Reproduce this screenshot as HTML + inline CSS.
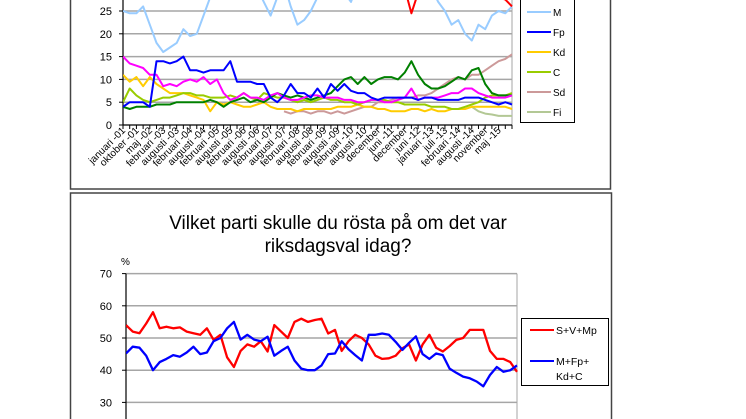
<!DOCTYPE html>
<html><head><meta charset="utf-8">
<style>
html,body{margin:0;padding:0;background:#fff;}
body{width:746px;height:419px;overflow:hidden;position:relative;font-family:"Liberation Sans",Arial,sans-serif;}
svg{position:absolute;left:0;top:0;}
text{font-family:"Liberation Sans",Arial,sans-serif;fill:#000;}
</style></head>
<body>
<svg id="chart" width="746" height="419" viewBox="0 0 746 419">
  <defs>
    <clipPath id="clipTop"><rect x="123" y="-60" width="390" height="186"/></clipPath>
    <clipPath id="clipBot"><rect x="126" y="273" width="392" height="146"/></clipPath>
  </defs>
  <rect x="70.5" y="-5" width="540" height="194" fill="#fff" stroke="#444" stroke-width="1.5"/>
  <rect x="70.5" y="193" width="541" height="240" fill="#fff" stroke="#444" stroke-width="1.5"/>
  <g id="topg"></g>
  <g id="botg"></g>
  <text x="338" y="229" font-size="19" text-anchor="middle">Vilket parti skulle du rösta på om det var</text>
  <text x="338" y="252" font-size="19" text-anchor="middle">riksdagsval idag?</text>
  <text x="121" y="265" font-size="10">%</text>
</svg>
<script>
const topLabels=["januari -01","oktober -01","maj -02","februari -03","augusti -03","februari -04","augusti -04","februari -05","augusti -05","februari -06","augusti -06","februari -07","augusti -07","februari -08","augusti -08","februari -09","augusti -09","februari -10","augusti -10","december","juni -11","december","juni -12","januari -13","juli -13","februari -14","augusti -14","november","maj -15"];
const topTicks=[0,5,10,15,20,25];
const botTicks=[30,40,50,60,70];
const S=[36,37,38,39,40,41,41,40,39,38,37,36,35,34,34,33,33,34,35,36,37,36,35,34,35,36,36,35,35,34,33,32,32,32,32,32,32,32,32,31,31,31,30,24.5,29,32,33,33,33,33,33,32,32,31,31,30,28,27.5,26];
const V=[15,13.5,13,12.5,11,11,8.5,9,8.5,9.5,10,9.5,10.5,9,10,7,5.5,6,7,6,6,5.5,6.5,7,6,5.5,5.5,6,6.5,6.5,6,6,6,5.5,5.5,5,5,5.5,5.5,5,5,5.5,6,8,5.5,6,6,6,6.5,7,7,8,8,7,6.5,6,6,6,6.5];
const Mp=[4,3.5,4,4,4,4.5,4.5,4.5,5,5,5,5,5,5.5,5,4,5,5.5,6,5,5.5,5,6,7,6.5,6,6.5,6,5.5,6,6.5,7,8.5,10,10.5,9,10.5,9,10,10.5,10.5,10,11.5,14,11,9,8,8,8.5,9.5,10.5,10,12,12.5,9,7,6.5,6.5,6.5];
const M=[25,24.5,24.5,26,22,18,16,17,18,21,19.5,20,24,28,32,33,33,32,33,33,30,27,24,28,31,26,22,23,25,28,30,28,30,29,27,31,33,34,34,34,33,33,33,33,32,32,30,27,25,22,23,20,18.5,22,21,24,25,24.5,26];
const Fp=[4,5,5,5,4,14,14,13.5,14,15,12,12,11.5,12,12,12,14,9.5,9.5,9.5,9,9,6,5,6.5,9,7,7,6,8,6,9,7.5,9,7.5,7,7,6,5.5,6,6,6,6,6,5.5,6,6,5.5,5.5,5.5,5.5,6,6,6,5.5,5,4.5,5,4.5];
const Kd=[11,9.5,10.5,8.5,10.5,9,8,7,7,7,6.5,6,5.5,3,5,4.5,5,4.5,4,4,4.5,5,4,3.5,3.5,3.5,3,3.5,3.5,3.5,3.5,3.5,4,4,4,4.5,4,4,3.5,3.5,3,3,3,3.5,3.5,3,3.5,3,3,3.5,3.5,3.5,4,4,4,4,4,4,3.5];
const C=[5,8,6.5,5.5,5,5.5,6,6,6.5,7,7,6.5,6.5,6,6,6,6.5,6,7,6,5.5,7,6.5,6,6,5.5,5,5.5,5,5.5,6,5.5,5.5,5,5,4.5,5,5.5,5.5,5.5,5,5,4.5,4.5,4.5,4.5,4,4,4,3.5,3.5,4,4.5,5,6,6.5,6.5,6.5,7];
const Sd=[null,null,null,null,null,null,null,null,null,null,null,null,null,null,null,null,null,null,null,null,null,null,null,null,3,2.5,3,3,2.5,3,3,2.5,3,2.5,3,3.5,4,4,5,5,5.5,6,6,6,6.5,6.5,7,8,9,10,10.5,10,11,11,12,13,14,14.5,15.5];
const Fi=[null,null,null,null,null,null,null,null,null,null,null,null,null,null,null,null,null,null,null,null,null,null,null,null,null,null,null,null,null,null,null,null,null,null,null,null,null,null,null,null,null,null,null,null,null,null,null,null,null,null,null,null,4,3,2.5,2.3,2,2,2];
const redBloc=[54,52,51.5,54.5,58,53,53.5,53,53.3,52,51.5,51,53,49.4,51,44,41,46,48,47.3,49,45.8,54,52,50,55,56,55,55.6,56,51.4,52.5,46,49,51,50,48,44.5,43.5,43.7,44.5,46.8,48,43,48,51,47,45.8,47.5,49.4,50,52.5,52.5,52.5,46,43.5,43.5,42.5,39.5];
const blueBloc=[45.2,47.3,47,44.5,40,42.5,43.5,44.7,44.2,45.5,47.3,45,45.5,49,50,53,55,49.5,51,49.5,49,50.4,44.5,46,47.3,43,40.5,40,40,41.5,45,45.2,49,46.5,44.7,43,51,51,51.4,51,48.8,46.3,48.5,50.5,45,43.5,45.2,44.7,40.5,39.2,38,37.5,36.5,35,38.5,41,39.5,40,41.5];

const NS="http://www.w3.org/2000/svg";
function mk(parent,tag,attrs){const e=document.createElementNS(NS,tag);for(const k in attrs)e.setAttribute(k,attrs[k]);parent.appendChild(e);return e;}
const N=M.length;
const tx=i=>123+i*(512-123)/(N-1);
const ty=v=>125-v*(125-11)/25;
const bx=i=>126+i*(517-126)/(N-1);
const by=v=>338-(v-50)*3.22;
const topG=document.getElementById('topg');
topTicks.forEach(t=>{
  if(t>0){const g=mk(topG,'line',{x1:123,x2:512,y1:ty(t),y2:ty(t),stroke:'#a6a6a6','stroke-width':1.5});
  
  }
  const l=mk(topG,'text',{x:112,y:ty(t)+4,'font-size':11,'text-anchor':'end'});l.textContent=t;
  
  
  mk(topG,'line',{x1:119,x2:123,y1:ty(t),y2:ty(t),stroke:'#000'});
});
mk(topG,'line',{x1:512,x2:512,y1:-20,y2:125,stroke:'#a6a6a6','stroke-width':1});
const ya=mk(topG,'line',{x1:123,x2:123,y1:-20,y2:125,stroke:'#000','stroke-width':1.2});


const xa=mk(topG,'line',{x1:123,x2:512,y1:125,y2:125,stroke:'#000','stroke-width':1.2});


for(let i=0;i<N;i++)mk(topG,'line',{x1:tx(i),x2:tx(i),y1:125,y2:129,stroke:'#000'});
topLabels.forEach((lab,k)=>{
  const x=tx(k*2)+3,y=131;
  const t=mk(topG,'text',{x:x,y:y,'font-size':10,'text-anchor':'end',transform:`rotate(-45 ${x} ${y})`});
  t.textContent=lab;
  
  
});
function path(g,arr,xf,yf,color,w,name,clip){
  let d='',pen=false;
  arr.forEach((v,i)=>{if(v==null){pen=false;return;}d+=(pen?'L':'M')+xf(i).toFixed(1)+' '+yf(v).toFixed(1)+' ';pen=true;});
  const p=mk(g,'path',{d:d,fill:'none',stroke:color,'stroke-width':w,'stroke-linejoin':'round','clip-path':clip});
  
  
}
const topSeries=[[Sd,'#cc9999','line-sd'],[Fi,'#b3c895','line-fi'],[Kd,'#ffcc00','line-kd'],[C,'#99cc00','line-c'],[Mp,'#008000','line-mp'],[V,'#ff00ff','line-v'],[Fp,'#0000ff','line-fp'],[M,'#99ccff','line-m'],[S,'#ff0000','line-s']];
topSeries.forEach(s=>path(topG,s[0],tx,ty,s[1],2,s[2],'url(#clipTop)'));
const lg=mk(topG,'g',{});


mk(lg,'rect',{x:520.5,y:-60,width:54,height:182.5,fill:'#fff',stroke:'#000','stroke-width':1});
[['M','#99ccff',12],['Fp','#0000ff',32],['Kd','#ffcc00',52],['C','#99cc00',72],['Sd','#cc9999',92],['Fi','#b3c895',112]].forEach(e=>{
  mk(lg,'line',{x1:527,x2:551,y1:e[2],y2:e[2],stroke:e[1],'stroke-width':2});
  const t=mk(lg,'text',{x:553,y:e[2]+4,'font-size':10});t.textContent=e[0];
  
  
});
const botG=document.getElementById('botg');
botTicks.forEach(t=>{
  const g=mk(botG,'line',{x1:126,x2:517,y1:by(t),y2:by(t),stroke:'#a6a6a6','stroke-width':1.5});
  
  
  const l=mk(botG,'text',{x:112,y:by(t)+4,'font-size':11,'text-anchor':'end'});l.textContent=t;
  
  
  mk(botG,'line',{x1:122,x2:126,y1:by(t),y2:by(t),stroke:'#000'});
});
mk(botG,'line',{x1:517,x2:517,y1:by(70),y2:419,stroke:'#a6a6a6','stroke-width':1});
const bya=mk(botG,'line',{x1:126,x2:126,y1:by(70),y2:419,stroke:'#000','stroke-width':1.2});


path(botG,redBloc,bx,by,'#ff0000',2.3,'line-red-bloc','url(#clipBot)');
path(botG,blueBloc,bx,by,'#0000ff',2.3,'line-blue-bloc','url(#clipBot)');
const bl=mk(botG,'g',{});


mk(bl,'rect',{x:521.5,y:318.5,width:87,height:67,fill:'#fff',stroke:'#000','stroke-width':1});
mk(bl,'line',{x1:530,x2:554,y1:330,y2:330,stroke:'#ff0000','stroke-width':2});
mk(bl,'line',{x1:530,x2:554,y1:361,y2:361,stroke:'#0000ff','stroke-width':2});
const t1=mk(bl,'text',{x:556,y:334,'font-size':10.5});t1.textContent='S+V+Mp';


const t2=mk(bl,'text',{x:556,y:365,'font-size':10.5});t2.textContent='M+Fp+';


const t3=mk(bl,'text',{x:556,y:380,'font-size':10.5});t3.textContent='Kd+C';


</script>
</body></html>
